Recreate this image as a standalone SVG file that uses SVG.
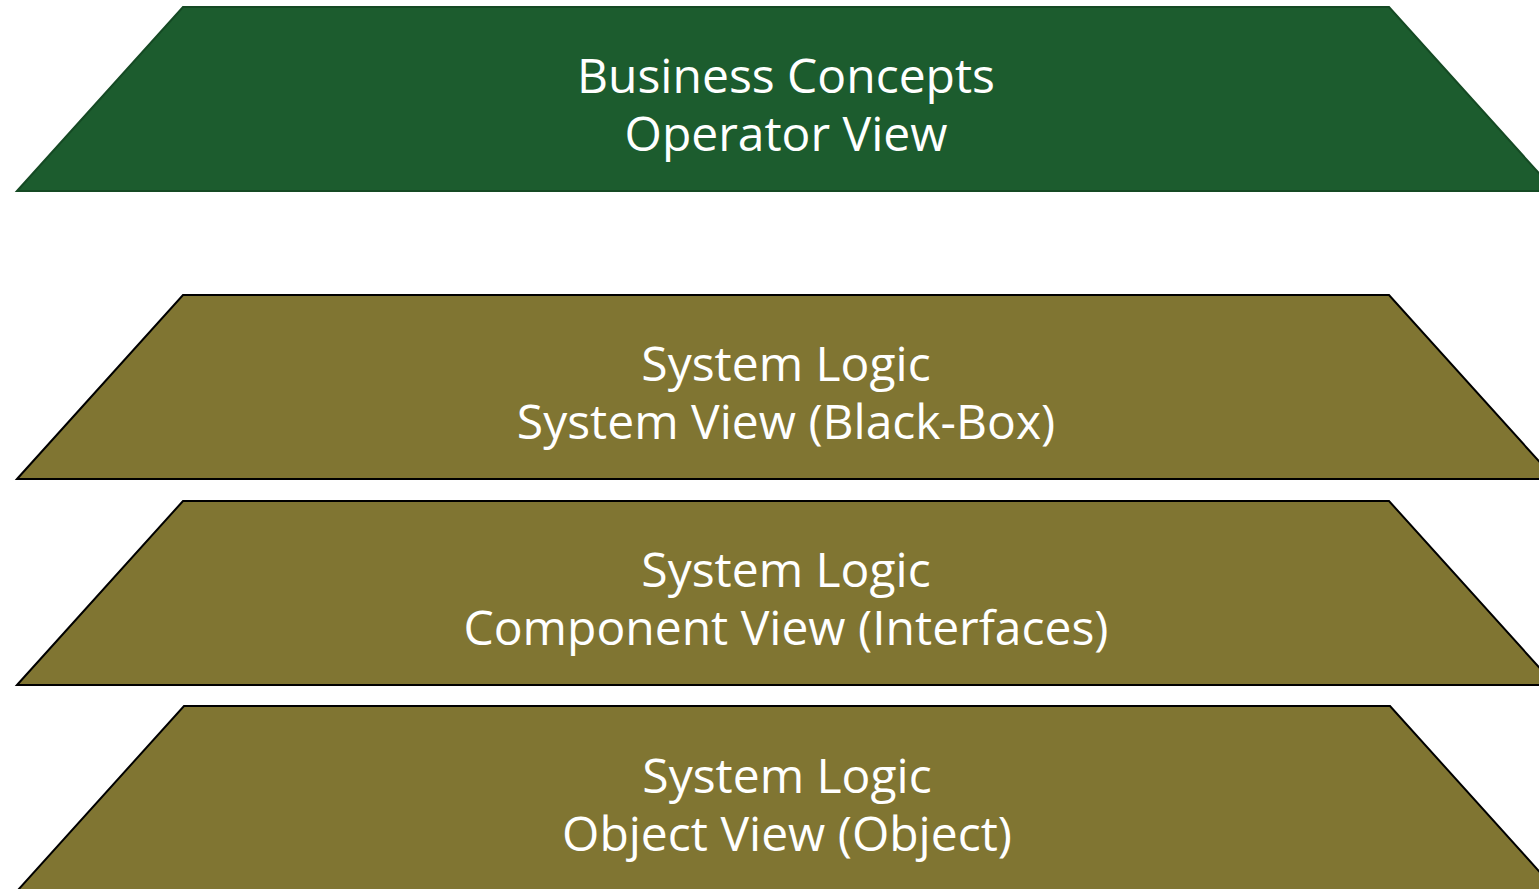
<svg xmlns="http://www.w3.org/2000/svg" width="1539" height="889" viewBox="0 0 1539 889">
<style>
.g{fill:#1c5c2e;stroke:#154a24;stroke-width:2}
.o{fill:#807532;stroke:#000;stroke-width:2}
text{font-family:"Open Sans","Noto Sans",sans-serif;font-size:48px;fill:#fff;text-anchor:middle}
</style>
<rect width="1539" height="889" fill="#fff"/>
<g id="business">
<polygon class="g" points="17,191 183,7 1389,7 1555,191"/>
<text x="786" y="93">Business Concepts</text>
<text x="786" y="151">Operator View</text>
</g>
<g id="system-view">
<polygon class="o" points="17,479 183,295 1389,295 1555,479"/>
<text x="786" y="381">System Logic</text>
<text x="786" y="439">System View (Black-Box)</text>
</g>
<g id="component-view">
<polygon class="o" points="17,685 183,501 1389,501 1555,685"/>
<text x="786" y="587">System Logic</text>
<text x="786" y="645">Component View (Interfaces)</text>
</g>
<g id="object-view">
<polygon class="o" points="18,890 184,706 1390,706 1556,890"/>
<text x="787" y="793">System Logic</text>
<text x="787" y="851">Object View (Object)</text>
</g>
<g id="connectors"/>
</svg>
